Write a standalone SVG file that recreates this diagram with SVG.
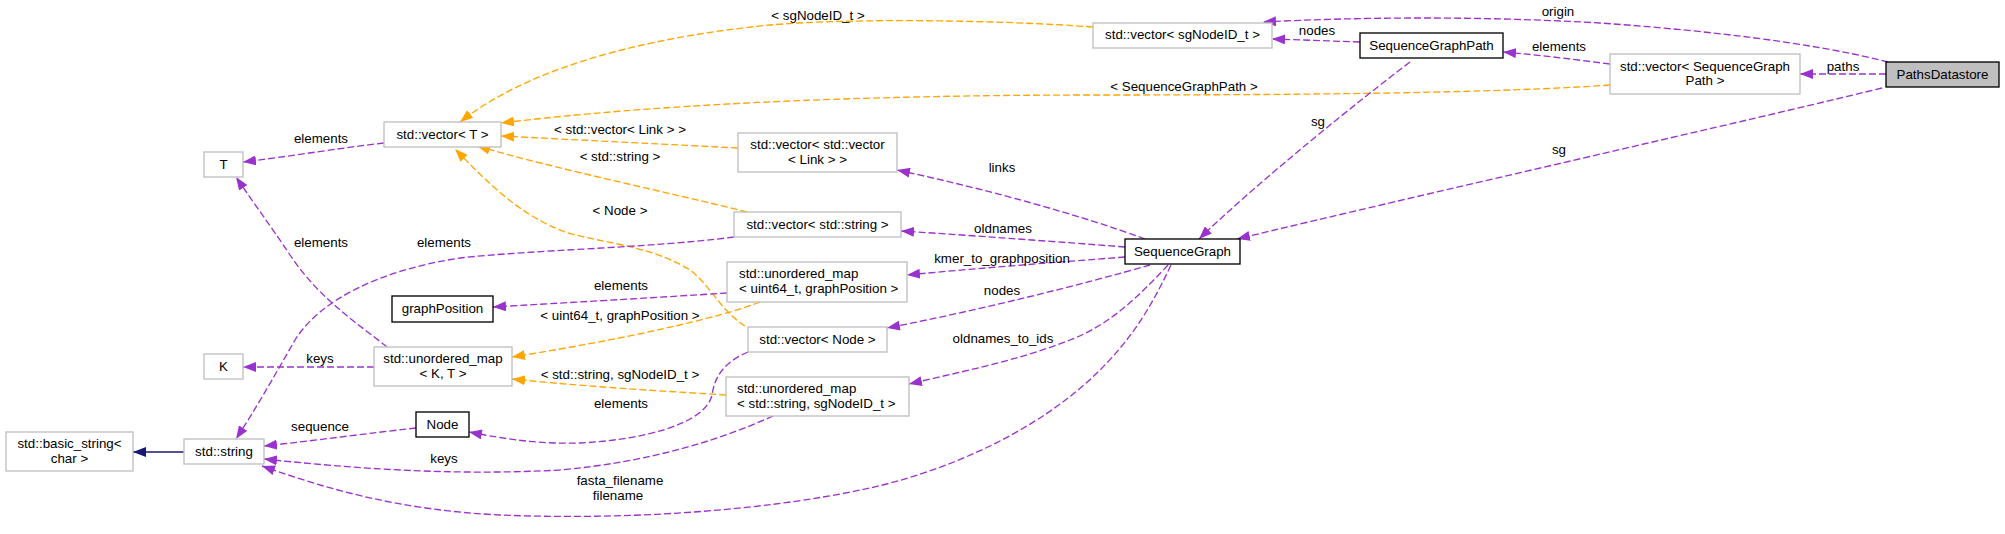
<svg xmlns="http://www.w3.org/2000/svg" width="2005" height="534" viewBox="0 0 2005 534">
<style>
text{font-family:"Liberation Sans",Arial,Helvetica,sans-serif;font-size:13.33px;fill:#000}
.c{text-anchor:middle}
.g{fill:#fff;stroke:#bfbfbf;stroke-width:1.33}
.b{fill:#fff;stroke:#000;stroke-width:1.33}
.p{fill:none;stroke:#9a32cd;stroke-width:1.33;stroke-dasharray:7,3}
.o{fill:none;stroke:#ffa500;stroke-width:1.33;stroke-dasharray:7,3}
.n{fill:none;stroke:#191970;stroke-width:1.33}
</style>
<defs>
<marker id="ap" viewBox="0 0 13 10" refX="13" refY="5" markerWidth="13" markerHeight="10" orient="auto" markerUnits="userSpaceOnUse"><path d="M0,0 L13,5 L0,10 z" fill="#9a32cd"/></marker>
<marker id="ao" viewBox="0 0 13 10" refX="13" refY="5" markerWidth="13" markerHeight="10" orient="auto" markerUnits="userSpaceOnUse"><path d="M0,0 L13,5 L0,10 z" fill="#ffa500"/></marker>
<marker id="an" viewBox="0 0 13 10" refX="13" refY="5" markerWidth="13" markerHeight="10" orient="auto" markerUnits="userSpaceOnUse"><path d="M0,0 L13,5 L0,10 z" fill="#191970"/></marker>
</defs>
<rect width="2005" height="534" fill="#fff"/>
<g id="edges">
<path class="p" marker-end="url(#ap)" d="M1888,62 C1810,42 1700,30 1600,23 C1480,16 1360,17 1263,22"/>
<text class="c" x="1558" y="16">origin</text>
<path class="p" marker-end="url(#ap)" d="M1886,74 L1800,74"/>
<text class="c" x="1843" y="71">paths</text>
<path class="p" marker-end="url(#ap)" d="M1882,88 C1760,118 1420,195 1237,239"/>
<text class="c" x="1559" y="154">sg</text>
<path class="p" marker-end="url(#ap)" d="M1610,64 C1570,59 1540,55 1503,52"/>
<text class="c" x="1559" y="51">elements</text>
<path class="o" marker-end="url(#ao)" d="M1610,85 C1500,93 1300,95 1100,95 C850,95 650,105 501,123"/>
<text class="c" x="1184" y="91">&lt; SequenceGraphPath &gt;</text>
<path class="p" marker-end="url(#ap)" d="M1360,42 C1330,41 1305,40 1272,39"/>
<text class="c" x="1317" y="35">nodes</text>
<path class="p" marker-end="url(#ap)" d="M1410,62 C1360,100 1260,180 1199,239"/>
<text class="c" x="1318" y="126">sg</text>
<path class="p" marker-end="url(#ap)" d="M1145,239 C1080,215 990,190 897,170"/>
<text class="c" x="1002" y="172">links</text>
<path class="p" marker-end="url(#ap)" d="M1125,247 C1060,242 980,236 901,231"/>
<text class="c" x="1003" y="233">oldnames</text>
<path class="p" marker-end="url(#ap)" d="M1125,257 C1060,262 980,268 907,275"/>
<text class="c" x="1002" y="263">kmer_to_graphposition</text>
<path class="p" marker-end="url(#ap)" d="M1150,265 C1080,285 980,310 887,328"/>
<text class="c" x="1002" y="295">nodes</text>
<path class="p" marker-end="url(#ap)" d="M1168,265 C1140,295 1110,325 1070,340 C1020,360 960,372 909,384"/>
<text class="c" x="1003" y="343">oldnames_to_ids</text>
<path class="p" marker-end="url(#ap)" d="M1171,265 C1150,310 1130,340 1100,370 C1040,430 950,470 870,488 C760,512 620,520 500,515 C400,510 330,490 262,466"/>
<text class="c" x="620" y="485">fasta_filename</text>
<text class="c" x="618" y="500">filename</text>
<path class="o" marker-end="url(#ao)" d="M1093,27 C1000,20 850,18 770,25 C620,40 520,75 460,122"/>
<text class="c" x="818" y="20">&lt; sgNodeID_t &gt;</text>
<path class="o" marker-end="url(#ao)" d="M738,148 C680,145 580,140 501,136"/>
<text class="c" x="620" y="134">&lt; std::vector&lt; Link &gt; &gt;</text>
<path class="o" marker-end="url(#ao)" d="M747,212 C680,195 560,170 477,146"/>
<text class="c" x="620" y="161">&lt; std::string &gt;</text>
<path class="o" marker-end="url(#ao)" d="M745,326 C720,310 710,285 690,270 C650,245 600,243 565,232 C520,215 490,185 455,149"/>
<text class="c" x="620" y="215">&lt; Node &gt;</text>
<path class="o" marker-end="url(#ao)" d="M760,302 C720,318 620,340 512,357"/>
<text class="c" x="620" y="320">&lt; uint64_t, graphPosition &gt;</text>
<path class="o" marker-end="url(#ao)" d="M726,395 C680,392 600,388 512,379"/>
<text class="c" x="620" y="379">&lt; std::string, sgNodeID_t &gt;</text>
<path class="p" marker-end="url(#ap)" d="M384,143 C340,148 300,155 243,162"/>
<text class="c" x="321" y="143">elements</text>
<path class="p" marker-end="url(#ap)" d="M387,347 C360,325 320,300 290,255 C270,225 255,205 236,177"/>
<text class="c" x="321" y="247">elements</text>
<path class="p" marker-end="url(#ap)" d="M374,367 L243,367"/>
<text class="c" x="320" y="363">keys</text>
<path class="p" marker-end="url(#ap)" d="M734,237 C650,248 530,250 460,258 C380,270 320,300 295,340 C275,375 255,410 236,439"/>
<text class="c" x="444" y="247">elements</text>
<path class="p" marker-end="url(#ap)" d="M727,293 C650,298 560,303 493,307"/>
<text class="c" x="621" y="290">elements</text>
<path class="p" marker-end="url(#ap)" d="M416,428 C370,433 320,440 264,446"/>
<text class="c" x="320" y="431">sequence</text>
<path class="p" marker-end="url(#ap)" d="M748,352 C725,362 715,375 712,395 C705,425 640,440 580,443 C540,444 510,440 469,432"/>
<text class="c" x="621" y="408">elements</text>
<path class="p" marker-end="url(#ap)" d="M773,416 C720,440 650,462 560,470 C450,476 350,468 264,459"/>
<text class="c" x="444" y="463">keys</text>
<path class="n" marker-end="url(#an)" d="M184,452 L133,452"/>
</g>
<g id="PathsDatastore"><rect x="1886" y="62" width="113" height="25" fill="#bfbfbf" stroke="#000" stroke-width="1.33"/><text class="c" x="1942.5" y="79">PathsDatastore</text></g>
<g id="vecSGP"><rect class="g" x="1610" y="54" width="190" height="40"/><text class="c" x="1705" y="71">std::vector&lt; SequenceGraph</text><text class="c" x="1705" y="85">Path &gt;</text></g>
<g id="SequenceGraphPath"><rect class="b" x="1360" y="33" width="143" height="25"/><text class="c" x="1431.5" y="50">SequenceGraphPath</text></g>
<g id="vecSgNodeID"><rect class="g" x="1093" y="23" width="179" height="25"/><text class="c" x="1182.5" y="39">std::vector&lt; sgNodeID_t &gt;</text></g>
<g id="SequenceGraph"><rect class="b" x="1125" y="239" width="115" height="25"/><text class="c" x="1182.5" y="256">SequenceGraph</text></g>
<g id="vecVecLink"><rect class="g" x="738" y="133" width="159" height="39"/><text class="c" x="817.5" y="149">std::vector&lt; std::vector</text><text class="c" x="817.5" y="164">&lt; Link &gt; &gt;</text></g>
<g id="vecString"><rect class="g" x="734" y="212" width="167" height="25"/><text class="c" x="817.5" y="229">std::vector&lt; std::string &gt;</text></g>
<g id="umapUint64"><rect class="g" x="727" y="262" width="180" height="40"/><text x="739" y="278">std::unordered_map</text><text x="739" y="293">&lt; uint64_t, graphPosition &gt;</text></g>
<g id="vecNode"><rect class="g" x="748" y="327" width="139" height="25"/><text class="c" x="817.5" y="344">std::vector&lt; Node &gt;</text></g>
<g id="umapString"><rect class="g" x="726" y="377" width="183" height="39"/><text x="737" y="393">std::unordered_map</text><text x="737" y="408">&lt; std::string, sgNodeID_t &gt;</text></g>
<g id="vecT"><rect class="g" x="384" y="122" width="117" height="25"/><text class="c" x="442.5" y="139">std::vector&lt; T &gt;</text></g>
<g id="T"><rect class="g" x="204" y="152" width="39" height="25"/><text class="c" x="223.5" y="169">T</text></g>
<g id="K"><rect class="g" x="204" y="354" width="39" height="25"/><text class="c" x="223.5" y="371">K</text></g>
<g id="umapKT"><rect class="g" x="374" y="347" width="138" height="39"/><text class="c" x="443" y="363">std::unordered_map</text><text class="c" x="443" y="378">&lt; K, T &gt;</text></g>
<g id="graphPosition"><rect class="b" x="392" y="296" width="101" height="26"/><text class="c" x="442.5" y="313">graphPosition</text></g>
<g id="Node"><rect class="b" x="416" y="412" width="53" height="25"/><text class="c" x="442.5" y="429">Node</text></g>
<g id="stdString"><rect class="g" x="184" y="439" width="80" height="25"/><text class="c" x="224" y="456">std::string</text></g>
<g id="basicString"><rect class="g" x="6" y="432" width="127" height="39"/><text class="c" x="69.5" y="448">std::basic_string&lt;</text><text class="c" x="69.5" y="463">char &gt;</text></g>
</svg>
